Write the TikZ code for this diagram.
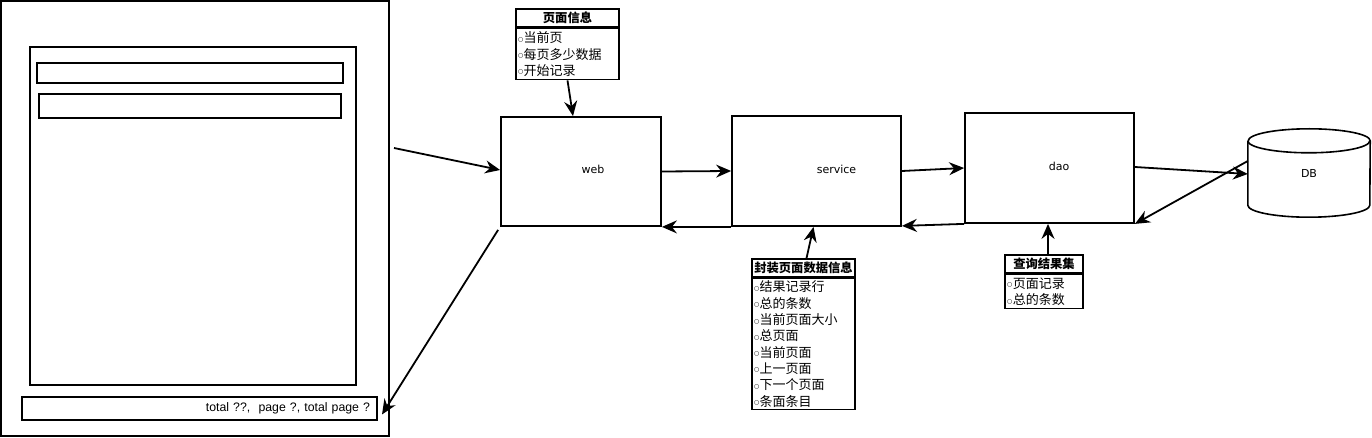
\documentclass[tikz,border=0pt]{standalone}
\usepackage{fontspec}
\usepackage{tikz}
\usetikzlibrary{arrows.meta,positioning}
\setmainfont{DejaVu Sans}
\newfontfamily\cjk{Noto Sans CJK SC}
\newfontfamily\libsans{Liberation Sans}
\newfontfamily\symf{DejaVu Sans}
\newcommand{\bul}{{\symf\fontsize{6}{6}\selectfont\raisebox{1.5pt}{○}}\hspace{0.5pt}}

\begin{document}
\begin{tikzpicture}[x=1pt, y=-1pt,
    layer/.style={draw, rectangle, line width=1.8pt, font=\fontsize{11}{13}\selectfont, inner sep=0pt},
    bar/.style={draw, rectangle, line width=2pt, inner sep=0pt},
    classtitle/.style={draw, rectangle, line width=1.6pt, font=\cjk\bfseries\fontsize{12.3}{14}\selectfont, inner sep=0pt, minimum height=18pt},
    classbody/.style={draw, rectangle, line width=1.6pt, font=\cjk\fontsize{13}{16.3}\selectfont, align=left, inner xsep=2pt, inner ysep=0pt},
    flow/.style={-{Stealth[length=15pt, width=13pt, inset=5pt]}, line width=1.8pt}]
    \useasboundingbox (0,0) rectangle (1372,438);

    \node[bar, minimum width=388pt, minimum height=435pt] (page) at (195,218.5) {};
    \node[bar, minimum width=326pt, minimum height=338pt] (list) at (193,216) {};
    \node[bar, minimum width=306pt, minimum height=20pt] (row1) at (190,73) {};
    \node[bar, minimum width=302pt, minimum height=24pt] (row2) at (190,106) {};
    \node[bar, minimum width=355pt, minimum height=23pt, text width=341pt, align=right, font=\libsans\fontsize{12.3}{14}\selectfont] (pager) at (199.5,408.5) {\raisebox{3pt}{total ??,~ page ?, total page ?}\hspace*{6pt}};

    \node[layer, minimum width=160pt, minimum height=109pt] (web) at (581,171.5) {\hspace*{24pt}\raisebox{4pt}{web}};
    \node[layer, minimum width=169pt, minimum height=110pt] (service) at (816.5,171) {\hspace*{40pt}\raisebox{4pt}{service}};
    \node[layer, minimum width=169pt, minimum height=110pt] (dao) at (1049.5,168) {\hspace*{19pt}\raisebox{4pt}{dao}};
    \node[minimum width=122pt, minimum height=64pt, inner sep=0pt, font=\fontsize{11}{13}\selectfont] (db) at (1309,173) {\raisebox{-9pt}{DB}};
    \draw[line width=1.6pt] (db.north west) -- (db.south west) arc[start angle=180, end angle=360, x radius=61pt, y radius=12pt] -- (db.north east) arc[start angle=0, end angle=180, x radius=61pt, y radius=12pt];
    \draw[line width=1.6pt] (db.north west) arc[start angle=180, end angle=360, x radius=61pt, y radius=12pt];

    \node[classtitle, minimum width=103pt] (pinfoT) at (567.5,18) {页面信息};
    \node[classbody, text width=99pt, minimum height=51pt, below=0pt of pinfoT] (pinfo) {\bul 当前页\\ \bul 每页多少数据\\ \bul 开始记录};
    \node[classtitle, minimum width=103pt] (wrapT) at (803.5,268) {封装页面数据信息};
    \node[classbody, text width=99pt, minimum height=131pt, below=0pt of wrapT] (wrap) {\bul 结果记录行\\ \bul 总的条数\\ \bul 当前页面大小\\ \bul 总页面\\ \bul 当前页面\\ \bul 上一页面\\ \bul 下一个页面\\ \bul 条面条目};
    \node[classtitle, minimum width=78pt] (resultT) at (1044,264) {查询结果集};
    \node[classbody, text width=74pt, minimum height=34pt, below=0pt of resultT] (result) {\bul 页面记录\\ \bul 总的条数};

    \coordinate (req) at (394,148);
    \draw[flow] (req) -- ([yshift=1.5pt]web.west);
    \draw[flow] (web.east) -- (service.west);
    \draw[flow] (service.east) -- (dao.west);
    \draw[flow] ([yshift=1pt]dao.east) -- ([yshift=-1pt]db.west);
    \draw[flow] ([yshift=12pt]db.west) -- (dao.south east);
    \draw[flow] (dao.south west) -- ([yshift=1pt]service.south east);
    \draw[flow] (service.south west) -- (web.south east);
    \draw[flow] ([xshift=-2pt,yshift=-3pt]web.south west) -- ([xshift=4pt,yshift=-6pt]pager.east);
    \draw[flow] (pinfo.south) -- ([xshift=-8pt]web.north);
    \draw[flow] ([xshift=3pt]wrapT.north) -- ([xshift=-3pt]service.south);
    \draw[flow] ([xshift=4pt]resultT.north) -- ([xshift=-1.5pt]dao.south);
\end{tikzpicture}
\end{document}
